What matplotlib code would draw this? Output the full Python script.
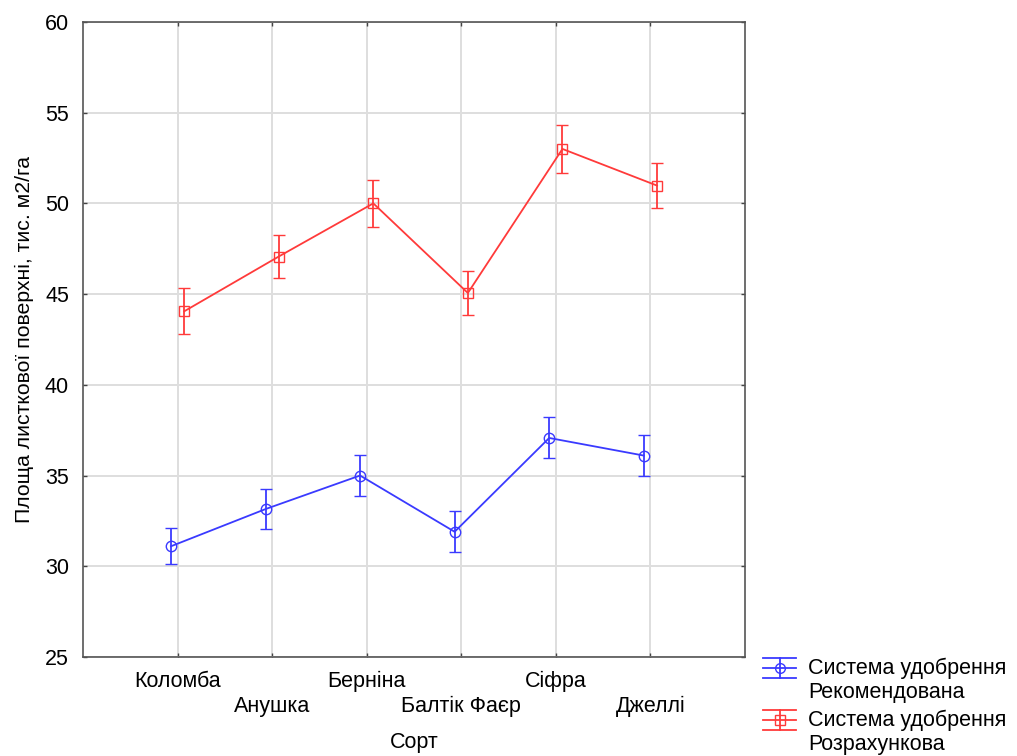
import matplotlib
matplotlib.use("Agg")
import matplotlib.pyplot as plt
from matplotlib.legend_handler import HandlerBase
from matplotlib.lines import Line2D
import numpy as np

plt.rcParams['font.family'] = ['Liberation Sans', 'DejaVu Sans']

categories = ["Коломба", "Анушка", "Берніна", "Балтік Фаєр", "Сіфра", "Джеллі"]
rec_values = [31.1, 33.15, 35.0, 31.9, 37.07, 36.1]
rec_err = [1.0, 1.1, 1.13, 1.13, 1.13, 1.13]
calc_values = [44.05, 47.07, 50.0, 45.06, 53.0, 50.98]
calc_err = [1.27, 1.2, 1.28, 1.2, 1.3, 1.25]
series_labels = ["Система удобрення\nРекомендована", "Система удобрення\nРозрахункова"]
y_label = "Площа листкової поверхні, тис. м2/га"
x_label = "Сорт"
y_ticks = [25, 30, 35, 40, 45, 50, 55, 60]

fig = plt.figure(figsize=(10.17, 7.56), dpi=100)
ax = fig.add_axes([0.0816, 0.131, 0.6509, 0.840])

x = np.arange(len(categories))
off = 0.07
blue = '#3a3aff'
red = '#ff3a3a'

ax.errorbar(x - off, rec_values, yerr=rec_err, color=blue, lw=1.3, marker='o',
            ms=7.5, mfc='none', mec=blue, mew=1.0, capsize=4.3, elinewidth=1.3,
            capthick=1.3, label=series_labels[0], zorder=3)
ax.errorbar(x + off, calc_values, yerr=calc_err, color=red, lw=1.3, marker='s',
            ms=7, mfc='none', mec=red, mew=1.0, capsize=4.3, elinewidth=1.3,
            capthick=1.3, label=series_labels[1], zorder=3)

ax.set_xlim(-1, len(categories))
ax.set_ylim(25, 60)
ax.set_yticks(y_ticks)
ax.set_xticks(x)
labels = [c if i % 2 == 0 else "\n" + c for i, c in enumerate(categories)]
ax.set_xticklabels(labels, fontsize=15.5, linespacing=1.25)
ax.tick_params(axis='both', direction='in', length=3, width=1, color='#444444',
               top=True, right=True, labelsize=15.5)
ax.tick_params(axis='x', pad=10)
ax.tick_params(axis='y', pad=10)
ax.grid(True, color='#dedede', lw=1.4, zorder=0)
for s in ax.spines.values():
    s.set_color('#555555')
    s.set_linewidth(1.2)

ax.set_ylabel(y_label, fontsize=15.3, labelpad=8)
ax.set_xlabel(x_label, fontsize=15.5, labelpad=11)


class ErrHandler(HandlerBase):
    def __init__(self, color, marker, ms):
        super().__init__()
        self.color = color
        self.marker = marker
        self.ms = ms

    def create_artists(self, legend, orig_handle, xdescent, ydescent, width,
                       height, fontsize, trans):
        yc = height / 2 - ydescent + fontsize * 0.6
        dy = 7.2
        arts = []
        for yy in (yc - dy, yc, yc + dy):
            arts.append(Line2D([-xdescent, -xdescent + width], [yy, yy],
                               color=self.color, lw=1.3, transform=trans))
        xm = -xdescent + width / 2
        arts.append(Line2D([xm, xm], [yc - dy, yc + dy], color=self.color,
                           lw=1.3, transform=trans))
        arts.append(Line2D([xm], [yc], marker=self.marker, ms=self.ms,
                           mfc='none', mec=self.color, mew=1.0, ls='none',
                           transform=trans))
        return arts


h = ax.get_legend_handles_labels()[0]
leg = ax.legend(h, series_labels, loc='upper left', bbox_to_anchor=(1.014, 0.012),
                frameon=False, fontsize=15.5, handlelength=1.55,
                handletextpad=0.55, labelspacing=0.3, borderaxespad=0,
                handler_map={h[0]: ErrHandler(blue, 'o', 7),
                             h[1]: ErrHandler(red, 's', 6.5)})

fig.savefig("out.png", dpi=100)
